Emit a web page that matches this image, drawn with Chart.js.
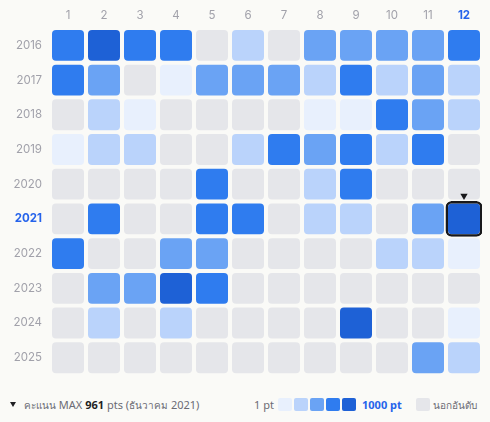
<!DOCTYPE html>
<html><head><meta charset="utf-8">
<script src="https://cdn.jsdelivr.net/npm/chart.js@4"></script>
<style>
html,body{margin:0;padding:0;background:#fafaf7;}
body{width:490px;height:422px;position:relative;overflow:hidden;font-family:"Noto Sans",Inter,sans-serif;}
#wrap{position:absolute;left:0;top:0;width:490px;height:390px;}
.t{position:absolute;font-size:11px;line-height:14px;color:#6b6b74;white-space:nowrap;top:398px;}
.th{font-size:10px;}
.sw{position:absolute;top:398px;width:14px;height:13px;border-radius:2px;}
#tri{position:absolute;left:10px;top:402px;width:0;height:0;border-left:3.5px solid transparent;border-right:3.5px solid transparent;border-top:5px solid #1f1f23;}
</style></head>
<body>
<div id="wrap"><canvas id="c"></canvas></div>
<div id="tri"></div>
<div class="t" style="left:24px"><span class="th">คะแนน</span> MAX <b style="color:#1f1f23">961</b> pts (<span class="th">ธันวาคม</span> 2021)</div>
<div class="t" style="left:254px">1 pt</div>
<div id="legsw"></div>
<div class="t" style="left:362px;color:#2563eb;font-weight:700">1000 pt</div>
<div class="sw" style="left:416px;background:#e5e6ea"></div>
<div class="t" style="left:433px"><span class="th">นอกอันดับ</span></div>
<script>
const months = ['1','2','3','4','5','6','7','8','9','10','11','12'];
const years = ['2016','2017','2018','2019','2020','2021','2022','2023','2024','2025'];
// colour level per cell: 0 = not ranked, 1..5 = score bins (1 pt .. 1000 pt)
const cellLevels = [
  [4,5,4,4,0,2,0,3,3,3,3,4], // 2016
  [4,3,0,1,3,3,3,2,4,2,3,2], // 2017
  [0,2,1,0,0,0,0,1,1,4,3,2], // 2018
  [1,2,2,0,0,2,4,3,4,2,4,0], // 2019
  [0,0,0,0,4,0,0,2,4,0,0,0], // 2020
  [0,4,0,0,4,4,0,2,2,0,3,5], // 2021
  [4,0,0,3,3,0,0,0,0,2,2,1], // 2022
  [0,3,3,5,4,0,0,0,0,0,0,0], // 2023
  [0,2,0,2,0,0,0,0,5,0,0,1], // 2024
  [0,0,0,0,0,0,0,0,0,0,3,2]  // 2025
];
const levelColors = ['#e5e6ea','#e8f0fd','#bad3fb','#6aa3f4','#2f7cef','#1e61d6'];
const maxScore = 961;
const maxYear = '2021';
const maxMonth = '12';

const legendLevels = [1,2,3,4,5];
const legsw = document.getElementById('legsw');
legendLevels.forEach((l,i)=>{
  const d=document.createElement('div');d.className='sw';
  d.style.left=(278+i*16)+'px';d.style.background=levelColors[l];legsw.appendChild(d);
});

const yi = years.indexOf(maxYear);
const half = 16/36;
const datasets = [];
datasets.push({
  type:'bar', order:-1,
  data: months.map(m => m===maxMonth ? [yi-18.5/36, yi+18.5/36] : null),
  backgroundColor:'rgba(0,0,0,0)', borderColor:'#18181b', borderWidth:2.5,
  borderRadius:6, borderSkipped:false, grouped:false,
  barPercentage:37/36, categoryPercentage:1
});
datasets.push({
  type:'scatter', order:-2,
  data:[{x:maxMonth, y:yi-0.667}],
  pointStyle:'triangle', rotation:180, radius:4.2,
  backgroundColor:'#18181b', borderWidth:0
});
years.forEach((y,i)=>{
  datasets.push({
    type:'bar',
    data: months.map(()=>[i-half, i+half]),
    backgroundColor: months.map((m,j)=>levelColors[cellLevels[i][j]]),
    borderRadius:4, borderSkipped:false, borderWidth:0, grouped:false,
    barPercentage:32/36, categoryPercentage:1
  });
});

const isMaxX = c => c.tick !== undefined && c.tick.label === maxMonth;
const isMaxY = c => c.tick !== undefined && years[c.tick.value] === maxYear;
const nf = {family:'Inter',size:11.5};
const bf = {family:'Inter',size:11.5,weight:'bold'};

new Chart(document.getElementById('c'),{
  type:'bar',
  data:{labels:months, datasets},
  options:{
    responsive:true, maintainAspectRatio:false, animation:false,
    layout:{padding:{left:0,right:8,top:0,bottom:2}},
    plugins:{legend:{display:false},tooltip:{enabled:false}},
    scales:{
      x:{type:'category', position:'top', offset:true,
         grid:{display:false,drawTicks:false}, border:{display:false},
         afterFit:s=>{s.height=28;},
         ticks:{padding:6,
           color:c=> isMaxX(c) ? '#2563eb' : '#a1a1aa',
           font:c=> isMaxX(c) ? bf : nf}},
      y:{type:'linear', reverse:true, min:-0.5, max:9.5,
         grid:{display:false,drawTicks:false}, border:{display:false},
         afterBuildTicks:s=>{s.ticks=years.map((y,i)=>({value:i}));},
         afterFit:s=>{s.width=50;},
         ticks:{padding:8, autoSkip:false,
           callback:v=>years[v],
           color:c=> isMaxY(c) ? '#2563eb' : '#a1a1aa',
           font:c=> isMaxY(c) ? bf : nf}}
    }
  }
});
</script>
</body></html>
